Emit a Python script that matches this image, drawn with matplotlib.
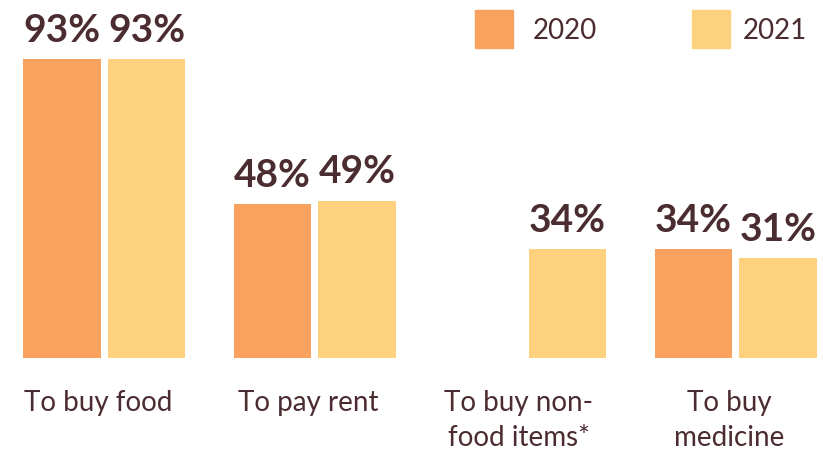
import numpy as np
import matplotlib
matplotlib.use("Agg")
import matplotlib.pyplot as plt
from matplotlib.patches import Rectangle

# data
categories = ["To buy food", "To pay rent", "To buy non-\nfood items*", "To buy\nmedicine"]
years = ["2020", "2021"]
v2020 = [93, 48, np.nan, 34]
v2021 = [93, 49, 34, 31]

c2020 = "#F9A15F"
c2021 = "#FED17E"
txt = "#4B2C30"
plt.rcParams['font.family'] = ['Lato', 'DejaVu Sans']

W, H = 823, 452
fig = plt.figure(figsize=(W / 100, H / 100), dpi=100)
ax = fig.add_axes([0, 93 / H, 1, 359 / H])

x = np.arange(len(categories))
w = 0.366
off = 0.2007
b1 = ax.bar(x - off, v2020, w, color=c2020)
b2 = ax.bar(x + off, v2021, w, color=c2021)

for xs, vals in [(x - off, v2020), (x + off, v2021)]:
    for xi, v in zip(xs, vals):
        if np.isnan(v):
            continue
        ax.annotate(f"{v:.0f}%", (xi, v), xytext=(0, 13), textcoords="offset points",
                    ha="center", va="baseline", fontsize=28, fontweight="bold", color=txt)

# category labels under each group
for xi, lab in zip(x, categories):
    ax.text(xi - 0.03, -9.6, lab, ha="center", va="top", fontsize=20, color=txt,
            linespacing=1.45)

ax.set_xlim(-0.4952, 3.4145)
ax.set_ylim(0, 111.7)
ax.axis("off")

# legend drawn by hand
for sx, tx, col, lab in [(475, 533, c2020, years[0]), (692, 743, c2021, years[1])]:
    fig.patches.append(Rectangle((sx / W, 1 - 49 / H), 38 / W, 38 / H,
                                 transform=fig.transFigure, color=col))
    fig.text(tx / W, 1 - 31 / H, lab, ha="left", va="center", fontsize=20, color=txt)

fig.savefig("out.png", dpi=100)
